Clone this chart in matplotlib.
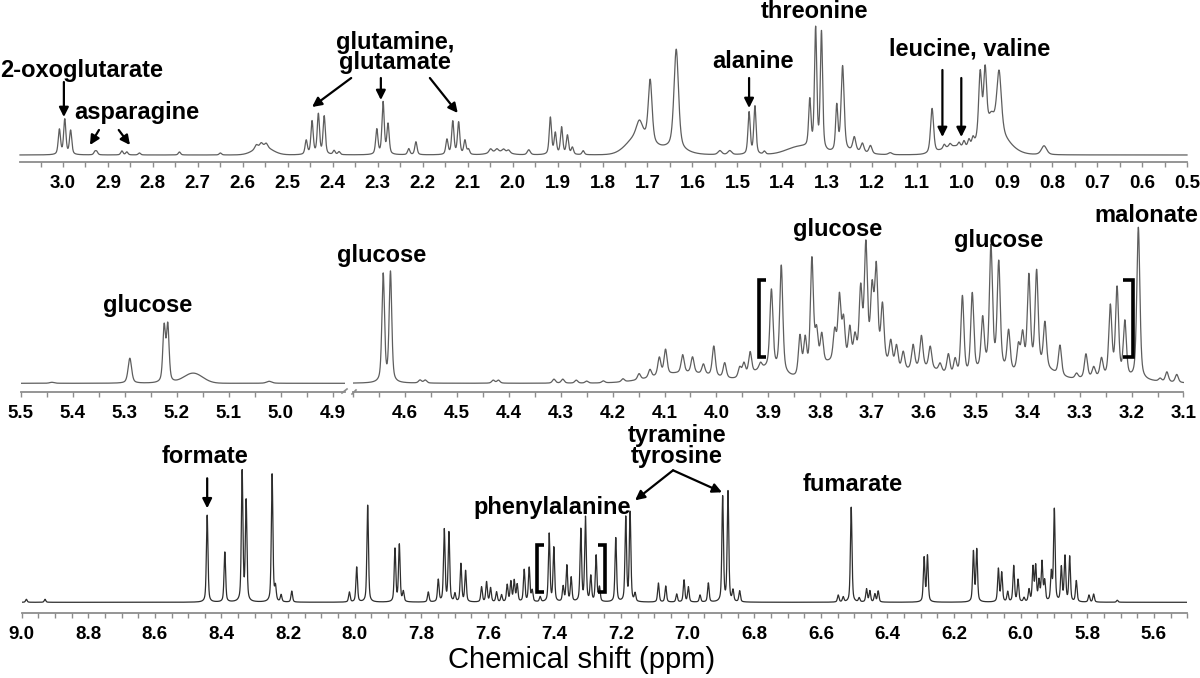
import numpy as np
import matplotlib
matplotlib.use("Agg")
import matplotlib.pyplot as plt
from matplotlib.ticker import MultipleLocator, FormatStrFormatter
from matplotlib.lines import Line2D

plt.rcParams['font.family'] = ['Liberation Sans', 'DejaVu Sans']

# ---------------- data: peak lists ----------------
# top panel (3.1 - 0.5 ppm)
top_ppm = [3.008, 2.996, 2.983, 2.929, 2.925, 2.869, 2.858, 2.830, 2.741, 2.650,
           2.570, 2.559, 2.548, 2.459, 2.446, 2.432, 2.419, 2.397, 2.386,
           2.302, 2.288, 2.277, 2.231, 2.215, 2.146, 2.133, 2.120, 2.106, 2.098,
           2.049, 2.035, 2.020, 2.009, 1.964,
           1.916, 1.905, 1.891, 1.878, 1.867, 1.843,
           1.718, 1.694, 1.636, 1.539, 1.517, 1.474, 1.461, 1.440,
           1.339, 1.326, 1.313, 1.279, 1.266, 1.240, 1.222, 1.204, 1.160,
           1.067, 1.040, 1.027, 1.007, 0.996, 0.985, 0.976,
           0.960, 0.949, 0.935, 0.918, 0.818]
top_height = [25, 35, 24, 3, 3, 4, 3, 2, 3, 2,
              4, 4, 4, 14, 33, 40, 38, 4, 3,
              25, 52, 30, 6, 13, 15, 33, 32, 14, 5,
              4, 3, 3, 3, 5,
              37, 21, 27, 19, 7, 4,
              15, 62, 100, 4, 4, 42, 48, 3,
              47, 120, 118, 45, 85, 14, 9, 8, 2,
              45, 4, 3, 4, 6, 7, 7,
              66, 64, 15, 62, 9]
top_width = ([0.003] * 10 +
             [0.004, 0.004, 0.004, 0.003, 0.003, 0.003, 0.003, 0.003, 0.003] +
             [0.003] * 10 +
             [0.004] * 5 +
             [0.003] * 6 +
             [0.008, 0.005, 0.006, 0.005, 0.005, 0.003, 0.003, 0.003] +
             [0.003, 0.003, 0.003, 0.003, 0.004, 0.004, 0.004, 0.004, 0.005] +
             [0.004, 0.003, 0.003, 0.003, 0.003, 0.003, 0.003] +
             [0.004, 0.004, 0.008, 0.006, 0.007])
top_broad_ppm = [2.555, 2.030, 1.720, 1.650, 1.360, 1.250, 1.020, 0.930]
top_broad_height = [8, 3, 18, 6, 8, 3, 8, 22]
top_broad_sigma = [0.020, 0.020, 0.025, 0.030, 0.030, 0.030, 0.025, 0.030]

# middle panel, left part (5.5 - 4.88 ppm)
ml_ppm = [5.440, 5.290, 5.224, 5.217, 5.022]
ml_height = [1, 25, 55, 56, 2]
ml_width = [0.005, 0.004, 0.003, 0.003, 0.006]
ml_broad_ppm = [5.168]
ml_broad_height = [10]
ml_broad_sigma = [0.018]

# middle panel, right part (4.7 - 3.1 ppm)
mr_ppm = [4.642, 4.628, 4.571, 4.561, 4.430, 4.420, 4.313, 4.296, 4.270, 4.250, 4.218, 4.180,
          4.149, 4.128, 4.110, 4.098, 4.065, 4.046, 4.025, 4.005, 3.984, 3.955, 3.947, 3.935, 3.915, 3.894, 3.875,
          3.839, 3.829, 3.816, 3.807, 3.797, 3.772, 3.763, 3.755, 3.743, 3.733, 3.722, 3.712, 3.700, 3.692, 3.680,
          3.664, 3.653, 3.640, 3.621, 3.605, 3.588, 3.569, 3.553, 3.540, 3.526, 3.507, 3.487,
          3.471, 3.456, 3.437, 3.418, 3.410, 3.398, 3.383, 3.367, 3.338,
          3.306, 3.288, 3.273, 3.258, 3.241, 3.228, 3.213, 3.187, 3.145, 3.132, 3.113]
mr_height = [108, 110, 3, 3, 3, 3, 4, 4, 3, 2, 2, 3,
             6, 8, 18, 25, 18, 16, 10, 30, 15, 10, 13, 22, 6, 78, 106,
             40, 35, 112, 35, 30, 30, 65, 42, 35, 25, 70, 112, 65, 88, 55,
             25, 23, 18, 24, 32, 22, 8, 20, 16, 80, 80, 50,
             120, 105, 40, 25, 35, 92, 95, 45, 30,
             5, 24, 10, 18, 70, 88, 55, 152, 3, 10, 8]
mr_width = [0.003, 0.003] + [0.0035] * (len(mr_ppm) - 2)
mr_broad_ppm = [4.06, 3.90, 3.78, 3.70, 3.60, 3.47, 3.38, 3.25]
mr_broad_height = [10, 14, 18, 22, 14, 14, 14, 5]
mr_broad_sigma = [0.06, 0.03, 0.03, 0.03, 0.04, 0.03, 0.03, 0.06]

# bottom panel (9.0 - 5.5 ppm)
bot_ppm = [8.986, 8.930,
           8.443, 8.390, 8.338, 8.326, 8.248, 8.238, 8.221, 8.189,
           8.016, 7.994, 7.961, 7.879, 7.866, 7.854,
           7.779, 7.749, 7.731, 7.717, 7.699, 7.681, 7.667,
           7.619, 7.604, 7.592, 7.574, 7.559, 7.542, 7.531, 7.521, 7.512, 7.491, 7.476, 7.467, 7.443,
           7.416, 7.402, 7.374, 7.363, 7.350, 7.321, 7.307, 7.291, 7.275, 7.265, 7.216, 7.186, 7.173, 7.158,
           7.088, 7.066, 7.033, 7.011, 6.998, 6.963, 6.938, 6.895, 6.879, 6.864, 6.844,
           6.548, 6.533, 6.509, 6.485, 6.463, 6.453, 6.438, 6.428,
           6.290, 6.280, 6.142, 6.132,
           6.067, 6.057, 6.039, 6.021, 6.008, 5.990, 5.975, 5.963, 5.955, 5.945, 5.936, 5.928,
           5.908, 5.899, 5.878, 5.867, 5.853, 5.833, 5.795, 5.781, 5.710]
bot_height = [3, 3,
              87, 50, 130, 100, 128, 14, 7, 11,
              10, 35, 97, 53, 57, 10,
              10, 22, 72, 69, 8, 38, 31,
              15, 20, 14, 10, 7, 17, 20, 21, 17, 32, 34, 11, 5,
              68, 54, 15, 36, 24, 72, 84, 25, 46, 14, 64, 84, 89, 8,
              19, 16, 8, 22, 15, 7, 19, 105, 110, 11, 11,
              7, 5, 95, 4, 13, 11, 8, 11,
              44, 46, 50, 52,
              33, 29, 10, 36, 22, 4, 12, 34, 35, 20, 39, 20,
              28, 92, 34, 45, 45, 21, 7, 8, 2]
bot_width = [0.0028] * len(bot_ppm)

mid_right_ticks = [4.6, 4.5, 4.4, 4.3, 4.2, 4.1, 4.0, 3.9, 3.8, 3.7, 3.6, 3.5, 3.4, 3.3, 3.2, 3.1]


def lineshape(x, centers, heights, widths, eta=0.5):
    y = np.zeros_like(x)
    for c, h, w in zip(centers, heights, widths):
        d = ((x - c) / w) ** 2
        y += h * (eta / (1.0 + d) + (1.0 - eta) * np.exp(-np.log(2) * d))
    return y


def broad(x, centers, heights, sigmas):
    y = np.zeros_like(x)
    for c, h, s in zip(centers, heights, sigmas):
        y += h * np.exp(-0.5 * ((x - c) / s) ** 2)
    return y


W, H = 1200, 678
fig = plt.figure(figsize=(W / 100, H / 100), dpi=100)


def panel(x0, x1, ytop, ybot, ybase, xlim, major, minor, ticks=None):
    ax = fig.add_axes([x0 / W, 1 - ybot / H, (x1 - x0) / W, (ybot - ytop) / H])
    ax.set_xlim(*xlim)
    ax.set_ylim(-(ybot - ybase), ybase - ytop)
    ax.patch.set_alpha(0)
    for s in ('left', 'right', 'top'):
        ax.spines[s].set_visible(False)
    ax.spines['bottom'].set_color('#8c8c8c')
    ax.spines['bottom'].set_linewidth(1.3)
    ax.set_yticks([])
    if ticks is not None:
        ax.set_xticks(ticks)
    else:
        ax.xaxis.set_major_locator(MultipleLocator(major))
    ax.xaxis.set_minor_locator(MultipleLocator(minor))
    ax.xaxis.set_major_formatter(FormatStrFormatter('%.1f'))
    ax.tick_params(axis='x', which='both', direction='out', colors='#8c8c8c',
                   length=3.5, width=1.0, labelcolor='black', pad=6,
                   labelsize=13.5)
    for lab in ax.get_xticklabels():
        lab.set_fontweight('bold')
    return ax


LABEL = dict(fontsize=17, fontweight='bold', ha='center', va='center', color='black')
ARROW = dict(arrowstyle='-|>', color='black', lw=1.6, mutation_scale=14,
             shrinkA=0, shrinkB=0)


def arrow(ax, x0, y0, x1, y1):
    ax.annotate('', xy=(x1, y1), xytext=(x0, y0), arrowprops=ARROW,
                annotation_clip=False)


def bracket(ax, x, y0, y1, serif):
    ax.plot([x + serif, x, x, x + serif], [y0, y0, y1, y1], color='black',
            lw=2.6, solid_joinstyle='miter', solid_capstyle='butt', clip_on=False)


# ---------------- top panel ----------------
axT = panel(20, 1187, 0, 162, 155, (3.0956, 0.5), 0.1, 0.05)
xT = np.linspace(3.0956, 0.5, 14000)
yT = lineshape(xT, top_ppm, top_height, top_width) + broad(xT, top_broad_ppm, top_broad_height, top_broad_sigma)
axT.plot(xT, yT, color='#5e5e5e', lw=0.9, clip_on=False)

axT.text(2.958, 85, '2-oxoglutarate', **LABEL)
arrow(axT, 2.998, 73, 2.998, 38)
axT.text(2.836, 42, 'asparagine', **LABEL)
arrow(axT, 2.920, 25, 2.940, 10)
arrow(axT, 2.876, 25, 2.851, 10)
axT.text(2.262, 113, 'glutamine,', **LABEL)
axT.text(2.262, 92, 'glutamate', **LABEL)
arrow(axT, 2.359, 77, 2.446, 48)
arrow(axT, 2.293, 77, 2.293, 55)
arrow(axT, 2.184, 77, 2.122, 42)
axT.text(1.466, 93, 'alanine', **LABEL)
arrow(axT, 1.474, 77, 1.474, 47)
axT.text(1.328, 144, 'threonine', **LABEL)
axT.text(0.984, 106, 'leucine, valine', **LABEL)
arrow(axT, 1.044, 85, 1.044, 18)
arrow(axT, 1.002, 77, 1.002, 18)

# ---------------- middle panel ----------------
axML = panel(20.7, 345, 180, 392, 383.3, (5.5, 4.876), 0.1, 0.05)
xML = np.linspace(5.5, 4.876, 5000)
yML = lineshape(xML, ml_ppm, ml_height, ml_width) + broad(xML, ml_broad_ppm, ml_broad_height, ml_broad_sigma)
axML.plot(xML, yML, color='#5e5e5e', lw=0.9)
axML.text(5.255, 78, 'glucose', **LABEL)

axMR = panel(353.1, 1183.5, 180, 392, 383.3, (4.70, 3.10), 0.1, 0.05, ticks=mid_right_ticks)
xMR = np.linspace(4.70, 3.10, 14000)
yMR = lineshape(xMR, mr_ppm, mr_height, mr_width) + broad(xMR, mr_broad_ppm, mr_broad_height, mr_broad_sigma)
axMR.plot(xMR, yMR, color='#5e5e5e', lw=0.9)
axMR.text(4.646, 128, 'glucose', **LABEL)
axMR.text(3.766, 154, 'glucose', **LABEL)
axMR.text(3.457, 143, 'glucose', **LABEL)
axMR.text(3.172, 168, 'malonate', **LABEL)
bracket(axMR, 3.917, 26, 103, -0.013)
bracket(axMR, 3.197, 26, 103, 0.019)

# axis break marks
for (xa, ya, xb, yb) in [(342, 393, 347, 389), (352, 394, 356, 390)]:
    fig.add_artist(Line2D([xa / W, xb / W], [1 - ya / H, 1 - yb / H],
                          color='#8c8c8c', lw=1.2, transform=fig.transFigure))

# ---------------- bottom panel ----------------
axB = panel(21.7, 1187.2, 420, 613.3, 602.3, (9.0, 5.5), 0.2, 0.05)
xB = np.linspace(9.0, 5.5, 16000)
yB = lineshape(xB, bot_ppm, bot_height, bot_width)
axB.plot(xB, yB, color='#2e2e2e', lw=0.9)
axB.text(8.449, 146, 'formate', **LABEL)
arrow(axB, 8.443, 124, 8.443, 94)
axB.text(7.407, 95, 'phenylalanine', **LABEL)
axB.text(7.032, 167, 'tyramine', **LABEL)
axB.text(7.032, 146, 'tyrosine', **LABEL)
arrow(axB, 7.044, 132, 7.158, 102)
arrow(axB, 7.044, 132, 6.897, 110)
bracket(axB, 7.453, 10, 57, -0.021)
bracket(axB, 7.248, 10, 57, 0.021)
axB.text(6.504, 118, 'fumarate', **LABEL)

fig.text(582 / W, 1 - 660 / H, 'Chemical shift (ppm)', fontsize=21,
         ha='center', va='center', color='black')

fig.savefig('out.png', dpi=100)
